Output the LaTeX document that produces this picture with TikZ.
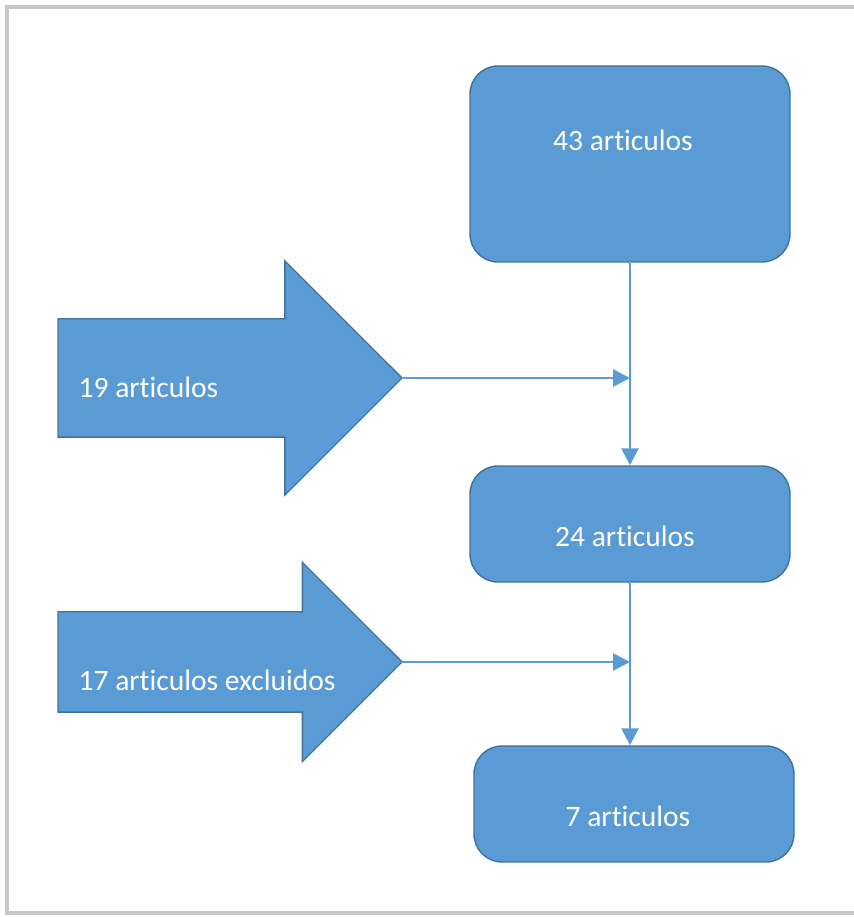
\documentclass[tikz,border=0pt]{standalone}
\usepackage{fontspec}
\setmainfont{Carlito}[Ligatures=NoCommon]
\usetikzlibrary{shapes.arrows,arrows.meta}

\begin{document}
\begin{tikzpicture}[thick]

  % Define Colors
  \definecolor{officeblue}{RGB}{91,155,213}
  \definecolor{officeline}{RGB}{65,113,156}
  \definecolor{framegray}{RGB}{200,200,200}

  % Node styles
  \tikzstyle{rbox}=[rectangle, rounded corners=0.28cm, draw=officeline, thin, fill=officeblue, minimum width=3.2cm, inner sep=0pt]
  \tikzstyle{bigarrow}=[single arrow, draw=officeline, thin, fill=officeblue, minimum height=3.44cm, single arrow tip angle=90, single arrow head indent=0pt, inner sep=0pt, text depth=0pt, anchor=tip]
  \tikzstyle{wtext}=[text=white, font=\fontsize{8.4}{10}\selectfont, inner sep=0pt]
  \tikzstyle{link}=[officeblue, line width=0.8pt, -{Triangle[length=0.17cm, width=0.17cm]}]

  % Frame
  \useasboundingbox (0,0) rectangle (8.53,9.17);
  \draw[framegray, line width=1.2pt] (8.7,9.10) -- (0.07,9.10) -- (0.07,0.04) -- (8.7,0.04);

  % Nodes
  \node[rbox, minimum height=1.96cm, label={[wtext, xshift=-0.07cm, yshift=0.24cm]center:43 articulos}] (n_43) at (6.30,7.53) {};
  \node[rbox, minimum height=1.16cm, label={[wtext, xshift=-0.05cm, yshift=-0.12cm]center:24 articulos}] (n_24) at (6.30,3.93) {};
  \node[rbox, minimum height=1.16cm, label={[wtext, xshift=-0.06cm, yshift=-0.12cm]center:7 articulos}] (n_7) at (6.34,1.13) {};

  \node[bigarrow, text height=1.17cm, minimum width=2.33cm, single arrow head extend=0.58cm,
    label={[wtext, anchor=west, xshift=0.2cm, yshift=-0.09cm]west:19 articulos}] (a_19) at (4.03,5.39) {};
  \node[bigarrow, text height=0.99cm, minimum width=1.98cm, single arrow head extend=0.495cm,
    label={[wtext, anchor=west, xshift=0.2cm, yshift=-0.18cm]west:17 articulos excluidos}] (a_17) at (4.03,2.55) {};

  % Links
  \coordinate (j_19) at (n_43.south |- a_19.tip);
  \coordinate (j_17) at (n_24.south |- a_17.tip);

  \draw[link] (n_43.south) -- (n_24.north);
  \draw[link] (n_24.south) -- (n_24.south |- n_7.north);
  \draw[link] (a_19.tip) -- (j_19);
  \draw[link] (a_17.tip) -- (j_17);

\end{tikzpicture}
\end{document}
